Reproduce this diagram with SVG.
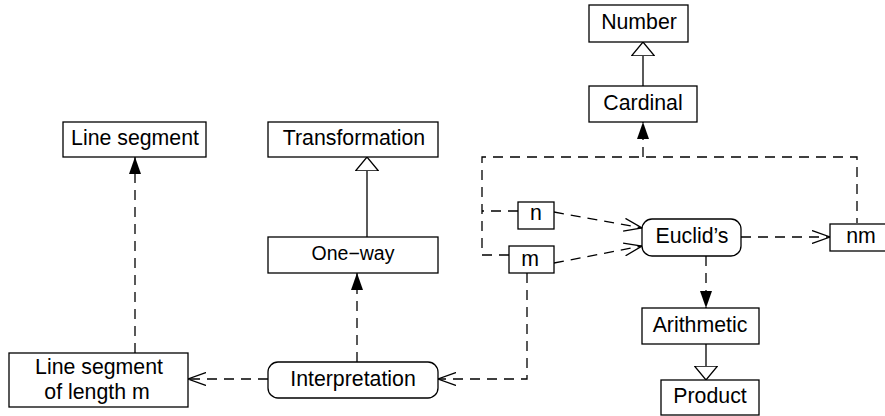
<svg xmlns="http://www.w3.org/2000/svg" width="885" height="416" viewBox="0 0 885 416">
<style>
.box{fill:#fff;stroke:#000;stroke-width:1.3}
.t{font-family:"Liberation Sans",Arial,sans-serif;font-size:21.3px;fill:#000;text-anchor:middle}
.c{fill:none;stroke:#000;stroke-width:1.3}
.d{stroke-dasharray:10,7}
</style>
<defs>
<marker id="fill" markerUnits="userSpaceOnUse" markerWidth="18" markerHeight="14" refX="17" refY="6" orient="auto" viewBox="0 0 18 12">
<path d="M0,0 L17,6 L0,12 z" fill="#000"/>
</marker>
<marker id="open" markerUnits="userSpaceOnUse" markerWidth="20" markerHeight="14" refX="18" refY="6.5" orient="auto" viewBox="0 0 20 13">
<path d="M0,0 L18,6.5 L0,13" fill="none" stroke="#000" stroke-width="1.3"/>
</marker>
<marker id="tri" markerUnits="userSpaceOnUse" markerWidth="16" markerHeight="24" refX="14" refY="11.5" orient="auto" viewBox="0 0 16 23">
<path d="M0,0 L14,11.5 L0,23 z" fill="#fff" stroke="#000" stroke-width="1.3"/>
</marker>
</defs>
<g id="connectors">
<path class="c" d="M643,86 V42" marker-end="url(#tri)"/>
<path class="c" d="M367,237 V157" marker-end="url(#tri)"/>
<path class="c" d="M706,344 V380" marker-end="url(#tri)"/>
<path class="c d" d="M509,255 H482 V157 H857 V223"/>
<path class="c d" d="M518,211 H482"/>
<path class="c d" d="M643,157 V122" marker-end="url(#fill)"/>
<path class="c d" d="M554,212 L642,228" marker-end="url(#open)"/>
<path class="c d" d="M554,263 L642,246" marker-end="url(#open)"/>
<path class="c d" d="M741,237 H830" marker-end="url(#open)"/>
<path class="c d" d="M706,256 V308" marker-end="url(#fill)"/>
<path class="c d" d="M527,273 V379 H438" marker-end="url(#open)"/>
<path class="c d" d="M268,379 H188" marker-end="url(#open)"/>
<path class="c d" d="M357,362 V273" marker-end="url(#fill)"/>
<path class="c d" d="M135,353 V157" marker-end="url(#fill)"/>
</g>
<g id="number"><rect class="box" x="589" y="5" width="99" height="37"/><text class="t" x="639" y="29">Number</text></g>
<g id="cardinal"><rect class="box" x="589" y="86" width="108" height="36"/><text class="t" x="643" y="110">Cardinal</text></g>
<g id="line-segment"><rect class="box" x="63" y="122" width="143" height="35"/><text class="t" x="135" y="145">Line segment</text></g>
<g id="transformation"><rect class="box" x="268" y="122" width="170" height="35"/><text class="t" x="354" y="145">Transformation</text></g>
<g id="one-way"><rect class="box" x="268" y="237" width="170" height="36"/><text class="t" x="353" y="260" style="font-size:19.5px">One−way</text></g>
<g id="interpretation"><rect class="box" x="268" y="362" width="170" height="36" rx="10"/><text class="t" x="353" y="386">Interpretation</text></g>
<g id="line-segment-m"><rect class="box" x="9" y="353" width="179" height="54"/><text class="t" x="99" y="374">Line segment</text><text class="t" x="97" y="399">of length m</text></g>
<g id="n"><rect class="box" x="518" y="202" width="36" height="27"/><text class="t" x="536" y="220">n</text></g>
<g id="m"><rect class="box" x="509" y="246" width="45" height="27"/><text class="t" x="530" y="266">m</text></g>
<g id="euclids"><rect class="box" x="642" y="219" width="99" height="37" rx="10"/><text class="t" x="692" y="243">Euclid’s</text></g>
<g id="nm"><rect class="box" x="830" y="224" width="62" height="27"/><text class="t" x="861" y="243">nm</text></g>
<g id="arithmetic"><rect class="box" x="642" y="308" width="117" height="36"/><text class="t" x="700" y="332">Arithmetic</text></g>
<g id="product"><rect class="box" x="661" y="380" width="98" height="35"/><text class="t" x="710" y="403">Product</text></g>
</svg>
